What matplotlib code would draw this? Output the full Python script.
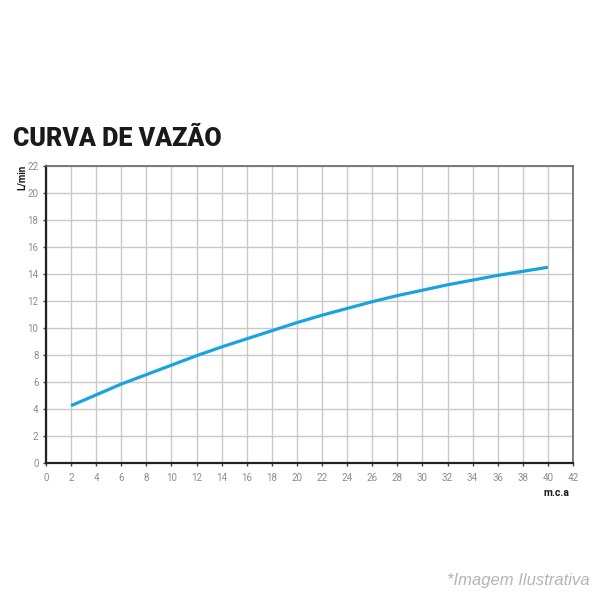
import matplotlib
matplotlib.use("Agg")
import matplotlib.pyplot as plt

# pressure head (m.c.a) vs flow (L/min)
head = [2, 4, 6, 8, 10, 12, 14, 16, 18, 20, 22, 24, 26, 28, 30, 32, 34, 36, 38, 40]
flow = [4.25, 5.05, 5.85, 6.55, 7.25, 7.95, 8.6, 9.2, 9.8, 10.4,
        10.95, 11.45, 11.95, 12.4, 12.8, 13.2, 13.55, 13.9, 14.2, 14.5]

x_ticks = list(range(0, 43, 2))
y_ticks = list(range(0, 23, 2))

BLUE = "#1aa3dd"
GRID = "#c9c9c9"
TICK = "#8c8c8c"
FONT = ["Roboto", "DejaVu Sans"]

plt.rcParams["font.family"] = FONT

fig = plt.figure(figsize=(6, 6), dpi=100)
fig.patch.set_facecolor("white")
ax = fig.add_axes([0.0767, 0.2283, 0.8783, 0.495])

ax.plot(head, flow, color=BLUE, lw=2.3, solid_capstyle="butt", zorder=3)

ax.set_xlim(0, 42)
ax.set_ylim(0, 22)
ax.set_xticks(x_ticks)
ax.set_yticks(y_ticks)
ax.grid(True, color=GRID, lw=1.0, zorder=0)
ax.set_axisbelow(True)

for side in ("left", "bottom"):
    ax.spines[side].set_color("#222222")
    ax.spines[side].set_linewidth(1.6)
for side in ("top", "right"):
    ax.spines[side].set_color("#666666")
    ax.spines[side].set_linewidth(1.2)

ax.tick_params(axis="both", direction="out", length=2.5, width=1.0,
               color="#444444", labelcolor=TICK, labelsize=7)
ax.tick_params(axis="y", pad=3)
ax.tick_params(axis="x", pad=5)

# title, axis units and footnote
fig.text(0.022, 0.757, "CURVA DE VAZÃO", fontsize=18, fontweight="black",
         color="#1a1a1a", ha="left", va="baseline")
fig.text(0.037, 0.705, "L/min", rotation=90, fontsize=7, fontweight="bold",
         color="#1a1a1a", ha="center", va="center")
fig.text(0.928, 0.178, "m.c.a", fontsize=7.5, fontweight="bold",
         color="#1a1a1a", ha="center", va="center")
fig.text(0.983, 0.033, "*Imagem Ilustrativa", fontsize=12, style="italic",
         family=["Liberation Sans", "DejaVu Sans"],
         color="#b5b5b5", ha="right", va="center")

fig.savefig("out.png", dpi=100, facecolor="white")
